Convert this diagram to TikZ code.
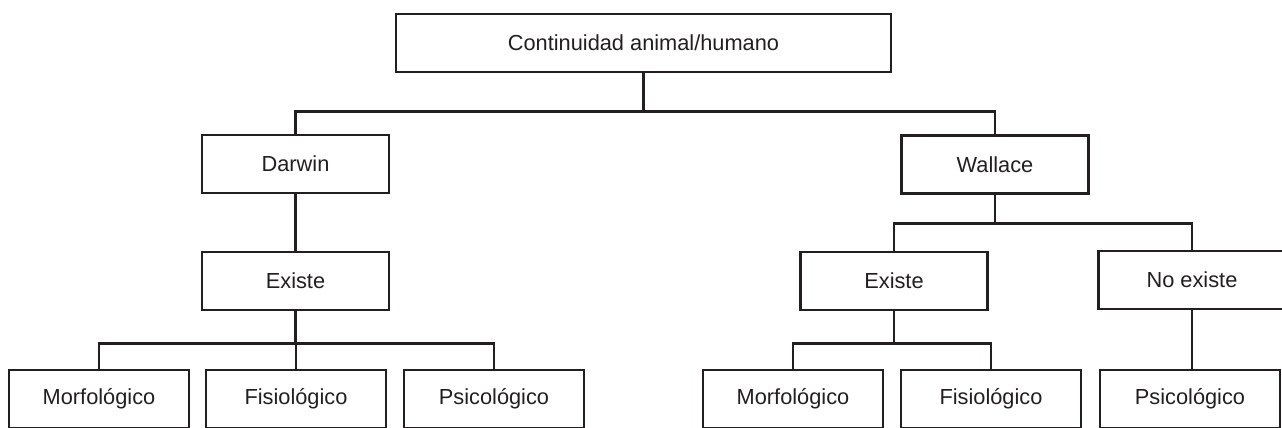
\documentclass[tikz,border=0pt]{standalone}
\usepackage{fontspec}
\setmainfont{Liberation Sans}
\usepackage{tikz}
\usetikzlibrary{positioning}

\definecolor{inkgray}{HTML}{231F20}

\begin{document}
\begin{tikzpicture}[
    x=0.02cm, y=-0.02cm,
    box/.style={rectangle, draw=inkgray, line width=1.5pt, text=inkgray, minimum width=3.74cm, minimum height=1.16cm, inner sep=0pt, font=\fontsize{12.4}{14}\selectfont},
    rootbox/.style={box, minimum width=9.9cm},
    leaf/.style={box, minimum width=3.6cm},
    link/.style={draw=inkgray, line width=1.5pt}
]

\useasboundingbox (0,0) rectangle (1282,428);
\clip (0,0) rectangle (1282,428);

% Root
\node[rootbox] (root) at (643.5,43) {Continuidad animal/humano};

% Authors
\node[box] (darwin) at (295.5,164) {Darwin};
\node[box] (wallace) at (995,164.5) {Wallace};

% Darwin branch
\node[box] (dexiste) at (295.5,281) {Existe};
\node[leaf] (dmorfo) at (99,399) {Morfológico};
\node[leaf] (dfisio) at (296,399) {Fisiológico};
\node[leaf] (dpsico) at (494,399) {Psicológico};

% Wallace branch
\node[box] (wexiste) at (894,281) {Existe};
\node[box] (wnoexiste) at (1192,280) {No existe};
\node[leaf] (wmorfo) at (793,399) {Morfológico};
\node[leaf] (wfisio) at (991,399) {Fisiológico};
\node[leaf] (wpsico) at (1190,399) {Psicológico};

% Links
\draw[link] (root.south) -- ++(0,38) -| (darwin.north);
\draw[link] (root.south) -- ++(0,38) -| (wallace.north);
\draw[link] (darwin) -- (dexiste);
\draw[link] (dexiste.south) -- ++(0,32) -| (dmorfo.north);
\draw[link] (dexiste.south) -- ++(0,32) -| (dfisio.north);
\draw[link] (dexiste.south) -- ++(0,32) -| (dpsico.north);
\draw[link] (wallace.south) -- ++(0,29) -| (wexiste.north);
\draw[link] (wallace.south) -- ++(0,29) -| (wnoexiste.north);
\draw[link] (wexiste.south) -- ++(0,32) -| (wmorfo.north);
\draw[link] (wexiste.south) -- ++(0,32) -| (wfisio.north);
\draw[link] (wnoexiste.south) -- (wnoexiste.south |- wpsico.north);

\end{tikzpicture}
\end{document}
